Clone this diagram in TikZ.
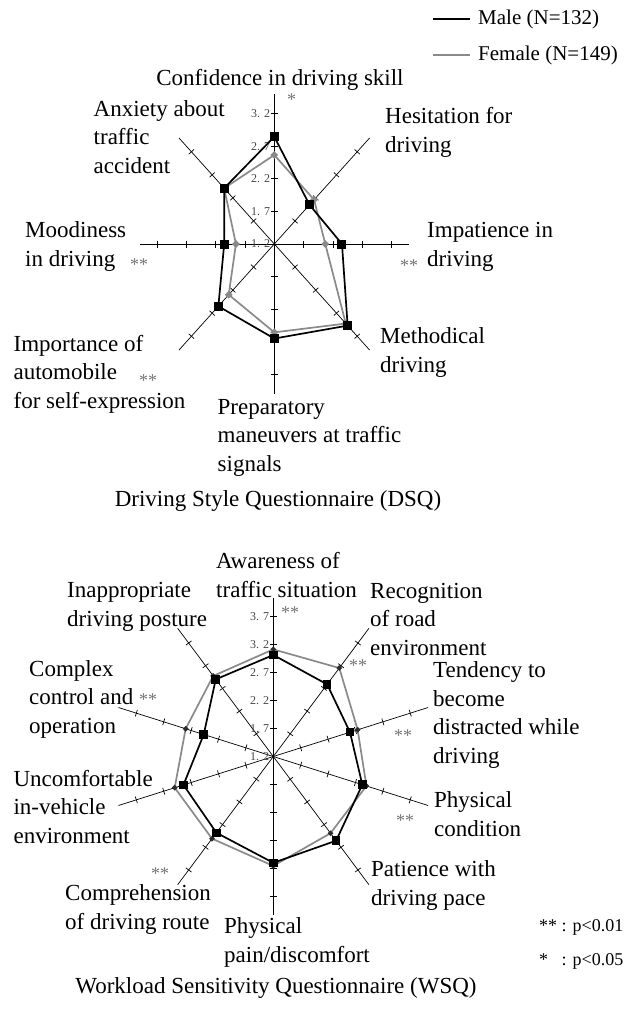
\documentclass[tikz,border=0pt]{standalone}
\usepackage{fontspec}
\setmainfont{Liberation Serif}
\usetikzlibrary{calc,shapes.geometric}

\definecolor{femgray}{RGB}{138,138,138}
\definecolor{stargray}{RGB}{115,115,115}
\definecolor{valgray}{RGB}{70,70,70}
\definecolor{femdark}{RGB}{45,45,45}

\tikzset{
  lbl/.style={inner sep=0pt, anchor=base west, align=left,
    font=\fontsize{23}{28.5}\selectfont},
  ttl/.style={inner sep=0pt, anchor=base, font=\fontsize{23}{28.5}\selectfont},
  legtxt/.style={inner sep=0pt, anchor=west, font=\fontsize{21}{25}\selectfont},
  pval/.style={inner sep=0pt, anchor=west, font=\fontsize{18}{22}\selectfont},
  sigmark/.style={inner sep=0pt, text=stargray, font=\fontsize{18}{22}\selectfont},
  vallbl/.style={inner sep=0pt, anchor=east, text=valgray, font=\fontsize{12}{14}\selectfont},
  axisln/.style={line width=0.7pt},
  maleln/.style={draw=black, line width=1.7pt, line join=round},
  femln/.style={draw=femgray, line width=1.7pt, line join=round},
  malesq/.style={rectangle, fill=black, inner sep=0pt, minimum size=9pt},
  femdia/.style={diamond, fill=femgray, inner sep=0pt, minimum size=8pt},
  femdot/.style={diamond, fill=femdark, inner sep=0pt, minimum size=6pt}
}

\begin{document}
\begin{tikzpicture}[x=1pt,y=-1pt]
\useasboundingbox (0,0) rectangle (633,1018);

%legend
\coordinate (lgm0) at (433,19);
\coordinate (lgm1) at (470,19);
\coordinate (lgf0) at (433,55);
\coordinate (lgf1) at (470,55);
\draw[maleln] (lgm0) -- (lgm1);
\draw[femln] (lgf0) -- (lgf1);
\node[legtxt] (lgmt) at (478,19) {Male (N=132)};
\node[legtxt] (lgft) at (478,55) {Female (N=149)};

%DSQ chart
\begin{scope}[shift={(274.3,244)}, x=29.3pt, y=32.6pt]
  \foreach \a in {0,45,...,315} {
    \draw[axisln] (0,0) -- (\a:4.6);
    \foreach \r in {1,...,4}
      \draw[axisln] ($(\a:\r)!3.5pt!90:(0,0)$) -- ($(\a:\r)!3.5pt!-90:(0,0)$);
  }
  \foreach \v [count=\i from 0] in {1. 2,1. 7,2. 2,2. 7,3. 2}
    \node[vallbl] (dv\i) at ($(0,\i)+(-4pt,0)$) {\v};
  %values
  \foreach \a/\v [count=\i] in {90/3.29,45/1.70,0/2.31,-45/3.54,-90/2.90,-135/2.70,180/1.71,135/2.42}
    \coordinate (dm\i) at (\a:\v);
  \foreach \a/\v [count=\i] in {90/2.73,45/1.92,0/1.74,-45/3.45,-90/2.71,-135/2.20,180/1.31,135/2.42}
    \coordinate (df\i) at (\a:\v);
  \draw[femln] (df1) \foreach \i in {2,...,8}{ -- (df\i)} -- cycle;
  \foreach \i in {1,...,8} \node[femdia] (dfd\i) at (df\i) {};
  \draw[maleln] (dm1) \foreach \i in {2,...,8}{ -- (dm\i)} -- cycle;
  \foreach \i in {1,...,8} \node[malesq] (dms\i) at (dm\i) {};
\end{scope}

%DSQ labels (base = last line)
\node[ttl] (lconf) at (280,85) {Confidence in driving skill};
\node[lbl] (lanx) at (93.5,173) {Anxiety about\\traffic\\accident};
\node[lbl] (lhes) at (385,152) {Hesitation for\\driving};
\node[lbl] (lmood) at (25,266) {Moodiness\\in driving};
\node[lbl] (limp) at (427,266) {Impatience in\\driving};
\node[lbl] (lmeth) at (380,372) {Methodical\\driving};
\node[lbl] (limpo) at (13.4,408) {Importance of\\automobile\\for self-expression};
\node[lbl] (lprep) at (217.5,471) {Preparatory\\maneuvers at traffic\\signals};
\node[ttl] (tdsq) at (278,506) {Driving Style Questionnaire (DSQ)};
\node[sigmark] (s1) at (291.7,99.7) {*};
\node[sigmark] (s2) at (139,265) {**};
\node[sigmark] (s3) at (409,266) {**};
\node[sigmark] (s4) at (148,381) {**};

%WSQ chart
\begin{scope}[shift={(273.3,756.5)}, x=28.8pt, y=28.05pt]
  \foreach \a in {18,54,...,342} {
    \draw[axisln] (0,0) -- (\a:5.65);
    \foreach \r in {1,...,5}
      \draw[axisln] ($(\a:\r)!3.5pt!90:(0,0)$) -- ($(\a:\r)!3.5pt!-90:(0,0)$);
  }
  \foreach \v [count=\i from 0] in {1. 2,1. 7,2. 2,2. 7,3. 2,3. 7}
    \node[vallbl] (wv\i) at ($(0,\i)+(-4pt,0)$) {\v};
  %values
  \foreach \a/\v [count=\i] in {90/3.62,54/3.18,18/2.80,-18/3.25,-54/3.71,-90/3.79,-126/3.36,-162/3.28,162/2.54,126/3.40}
    \coordinate (wm\i) at (\a:\v);
  \foreach \a/\v [count=\i] in {90/3.82,54/3.90,18/3.08,-18/3.40,-54/3.38,-90/3.90,-126/3.62,-162/3.60,162/3.20,126/3.55}
    \coordinate (wf\i) at (\a:\v);
  \draw[femln] (wf1) \foreach \i in {2,...,10}{ -- (wf\i)} -- cycle;
  \draw[maleln] (wm1) \foreach \i in {2,...,10}{ -- (wm\i)} -- cycle;
  \foreach \i in {1,...,10} \node[femdot] (wfd\i) at (wf\i) {};
  \foreach \i in {1,...,10} \node[malesq, minimum size=8.5pt] (wms\i) at (wm\i) {};
\end{scope}

%WSQ labels (base = last line)
\node[lbl] (lawa) at (216,597) {Awareness of\\traffic situation};
\node[lbl] (linap) at (67,626) {Inappropriate\\driving posture};
\node[lbl] (lrec) at (370,655) {Recognition\\of road\\environment};
\node[lbl] (lten) at (433,763) {Tendency to\\become\\distracted while\\driving};
\node[lbl] (lcom) at (29,733) {Complex\\control and\\operation};
\node[lbl] (lunc) at (13.4,843) {Uncomfortable\\in-vehicle\\environment};
\node[lbl] (lphc) at (434,836) {Physical\\condition};
\node[lbl] (lpat) at (371,905) {Patience with\\driving pace};
\node[lbl] (lcmp) at (65,929) {Comprehension\\of driving route};
\node[lbl] (lphp) at (224,962) {Physical\\pain/discomfort};
\node[ttl] (twsq) at (276,993) {Workload Sensitivity Questionnaire (WSQ)};
\node[sigmark] (s5) at (290,613) {**};
\node[sigmark] (s6) at (358,666) {**};
\node[sigmark] (s7) at (403,736) {**};
\node[sigmark] (s8) at (405,821) {**};
\node[sigmark] (s9) at (148,700) {**};
\node[sigmark] (s10) at (160,874) {**};

%significance key
\node[pval] (p1) at (539,927) {** : p<0.01};
\node[pval] (p2) at (539,961) {*\phantom{*} : p<0.05};
\end{tikzpicture}
\end{document}
